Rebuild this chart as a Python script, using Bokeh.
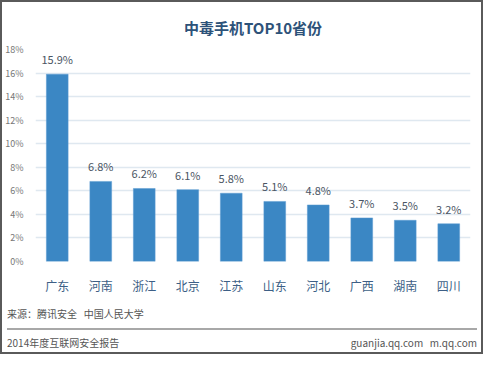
from bokeh.plotting import figure
from bokeh.models import ColumnDataSource, FactorRange, Range1d, FixedTicker, LabelSet, Div
from bokeh.layouts import column
from bokeh.embed import file_html
from bokeh.resources import INLINE
from bokeh.core.properties import value

provinces = ["广东", "河南", "浙江", "北京", "江苏", "山东", "河北", "广西", "湖南", "四川"]
shares = [15.9, 6.8, 6.2, 6.1, 5.8, 5.1, 4.8, 3.7, 3.5, 3.2]
y_ticks = [0, 2, 4, 6, 8, 10, 12, 14, 16, 18]
title_text = "中毒手机TOP10省份"
source_text = "来源：腾讯安全&nbsp;&nbsp;&nbsp;中国人民大学"
report_text = "2014年度互联网安全报告"
site_text = "guanjia.qq.com&nbsp;&nbsp;&nbsp;m.qq.com"

FONT = "Noto Sans CJK SC"
W = 479
H1, H2 = 295, 55
ML, MR, MT, MB = 29, 11, 44, 36

src = ColumnDataSource(dict(
    x=provinces, y=shares, label=[f"{v}%" for v in shares]))

p = figure(width=W, height=H1, x_range=FactorRange(*provinces, range_padding=0),
           y_range=Range1d(0, 18), output_backend="svg", toolbar_location=None,
           min_border_left=ML, min_border_right=MR, min_border_top=MT, min_border_bottom=MB,
           title=title_text)
p.outline_line_color = None
p.background_fill_color = "white"
p.border_fill_color = "white"
p.title.align = "center"
p.title.text_font = FONT
p.title.text_font_size = "15px"
p.title.text_font_style = "bold"
p.title.text_color = "#2d5279"
p.title.standoff = 24

p.vbar(x="x", top="y", width=0.5, source=src, fill_color="#3b87c4", line_color="#5b9bd0", line_width=0.5)

labels = LabelSet(x="x", y="y", text="label", source=src, text_align="center", text_baseline="bottom",
                  y_offset=7, text_font=value(FONT), text_font_size="11px", text_color="#4a5563")
p.add_layout(labels)

p.yaxis.ticker = FixedTicker(ticks=y_ticks)
p.yaxis.major_label_overrides = {t: f"{t}%" for t in y_ticks}
p.yaxis.axis_line_color = None
p.yaxis.major_tick_line_color = None
p.yaxis.minor_tick_line_color = None
p.yaxis.major_label_text_font = FONT
p.yaxis.major_label_text_font_size = "9px"
p.yaxis.major_label_text_color = "#777777"
p.yaxis.major_label_standoff = 6

p.xaxis.axis_line_color = None
p.xaxis.major_tick_line_color = None
p.xaxis.minor_tick_line_color = None
p.xaxis.major_label_text_font = FONT
p.xaxis.major_label_text_font_size = "12px"
p.xaxis.major_label_text_color = "#3d5f86"
p.xaxis.major_label_standoff = 9

p.xgrid.grid_line_color = None
p.ygrid.grid_line_color = "#dfe8f0"
p.ygrid.grid_line_width = 1.5

footer_html = f"""
<div style="position:relative;width:{W}px;height:{H2}px;font-family:'{FONT}';font-size:10px;color:#555555;">
  <div style="position:absolute;left:5px;top:10px;line-height:14px;white-space:nowrap;">{source_text}</div>
  <div style="position:absolute;left:5px;width:470px;top:31px;height:1.5px;background:#a8a8a8;"></div>
  <div style="position:absolute;left:5px;top:39px;line-height:14px;white-space:nowrap;">{report_text}</div>
  <div style="position:absolute;right:4px;top:39px;line-height:14px;white-space:nowrap;">{site_text}</div>
</div>
"""
footer = Div(text=footer_html, width=W, height=H2, margin=0)

layout = column(p, footer, spacing=0)
layout.styles = {"border": "2px solid #5a5a5a", "background-color": "white"}

open("out.html", "w").write(file_html(layout, INLINE))
